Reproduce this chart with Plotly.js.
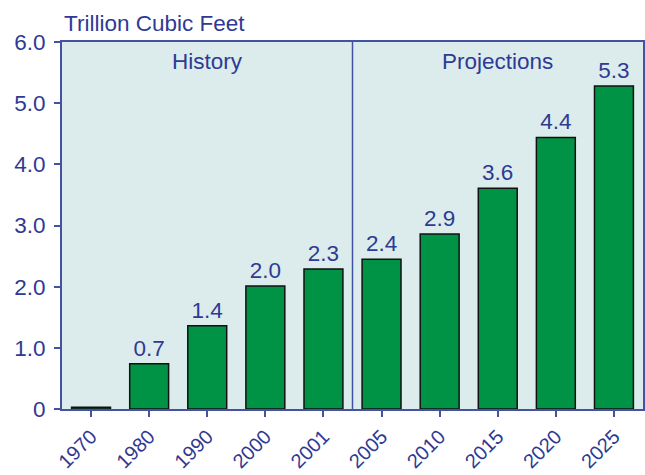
<!DOCTYPE html>
<html>
<head>
<meta charset="utf-8">
<script src="https://cdn.plot.ly/plotly-3.0.1.min.js"></script>
<style>html,body{margin:0;padding:0;background:#fff;}#chart{width:645px;height:475px;}</style>
</head>
<body>
<div id="chart"></div>
<script>
const years = ['1970','1980','1990','2000','2001','2005','2010','2015','2020','2025'];
const values = [0.03, 0.74, 1.36, 2.01, 2.29, 2.45, 2.86, 3.61, 4.44, 5.28];
const valueLabels = ['', '0.7', '1.4', '2.0', '2.3', '2.4', '2.9', '3.6', '4.4', '5.3'];
const yTickVals = [0, 1, 2, 3, 4, 5, 6];
const yTickText = ['0', '1.0', '2.0', '3.0', '4.0', '5.0', '6.0'];
const sectionLabels = ['History', 'Projections'];
const unitTitle = 'Trillion Cubic Feet';

const textColor = '#2e3a94';
const axisColor = '#4352a3';
const font = 'Liberation Sans, Arial, sans-serif';

const trace = {
  type: 'bar',
  x: years,
  y: values,
  text: valueLabels,
  textposition: 'outside',
  cliponaxis: false,
  textfont: {family: font, size: 22.5, color: textColor},
  marker: {color: '#009245', line: {color: '#111', width: 1.5}},
  width: 0.67,
  hoverinfo: 'none'
};

const layout = {
  width: 645, height: 475,
  margin: {l: 62, r: 2, t: 42, b: 66},
  paper_bgcolor: '#ffffff',
  plot_bgcolor: '#dcecec',
  showlegend: false,
  font: {family: font, size: 22.5, color: textColor},
  xaxis: {
    type: 'category',
    tickangle: -45,
    ticks: 'outside', ticklen: 6, tickwidth: 2, tickcolor: axisColor,
    showline: true, linecolor: axisColor, linewidth: 2, mirror: true,
    showgrid: false, zeroline: false,
    tickfont: {family: font, size: 20, color: textColor},
    range: [-0.5, 9.5]
  },
  yaxis: {
    range: [0, 6],
    tickvals: yTickVals, ticktext: yTickText,
    ticks: 'outside', ticklen: 6, tickwidth: 2, tickcolor: axisColor,
    ticklabelstandoff: 4,
    showline: true, linecolor: axisColor, linewidth: 2, mirror: true,
    showgrid: false, zeroline: false,
    tickfont: {family: font, size: 22.5, color: textColor}
  },
  shapes: [{
    type: 'line', xref: 'x', yref: 'paper',
    x0: 4.5, x1: 4.5, y0: 0, y1: 1,
    line: {color: axisColor, width: 1.5}
  }],
  annotations: [
    {text: unitTitle, xref: 'paper', yref: 'paper', x: 0, y: 1, xanchor: 'left', yanchor: 'bottom', yshift: 4, showarrow: false, font: {family: font, size: 22.5, color: textColor}},
    {text: sectionLabels[0], xref: 'x', yref: 'paper', x: 2, y: 1, yanchor: 'top', yshift: -5, showarrow: false, font: {family: font, size: 22.5, color: textColor}},
    {text: sectionLabels[1], xref: 'x', yref: 'paper', x: 7, y: 1, yanchor: 'top', yshift: -5, showarrow: false, font: {family: font, size: 22.5, color: textColor}}
  ]
};

Plotly.newPlot('chart', [trace], layout, {displayModeBar: false, staticPlot: true});
</script>
</body>
</html>
